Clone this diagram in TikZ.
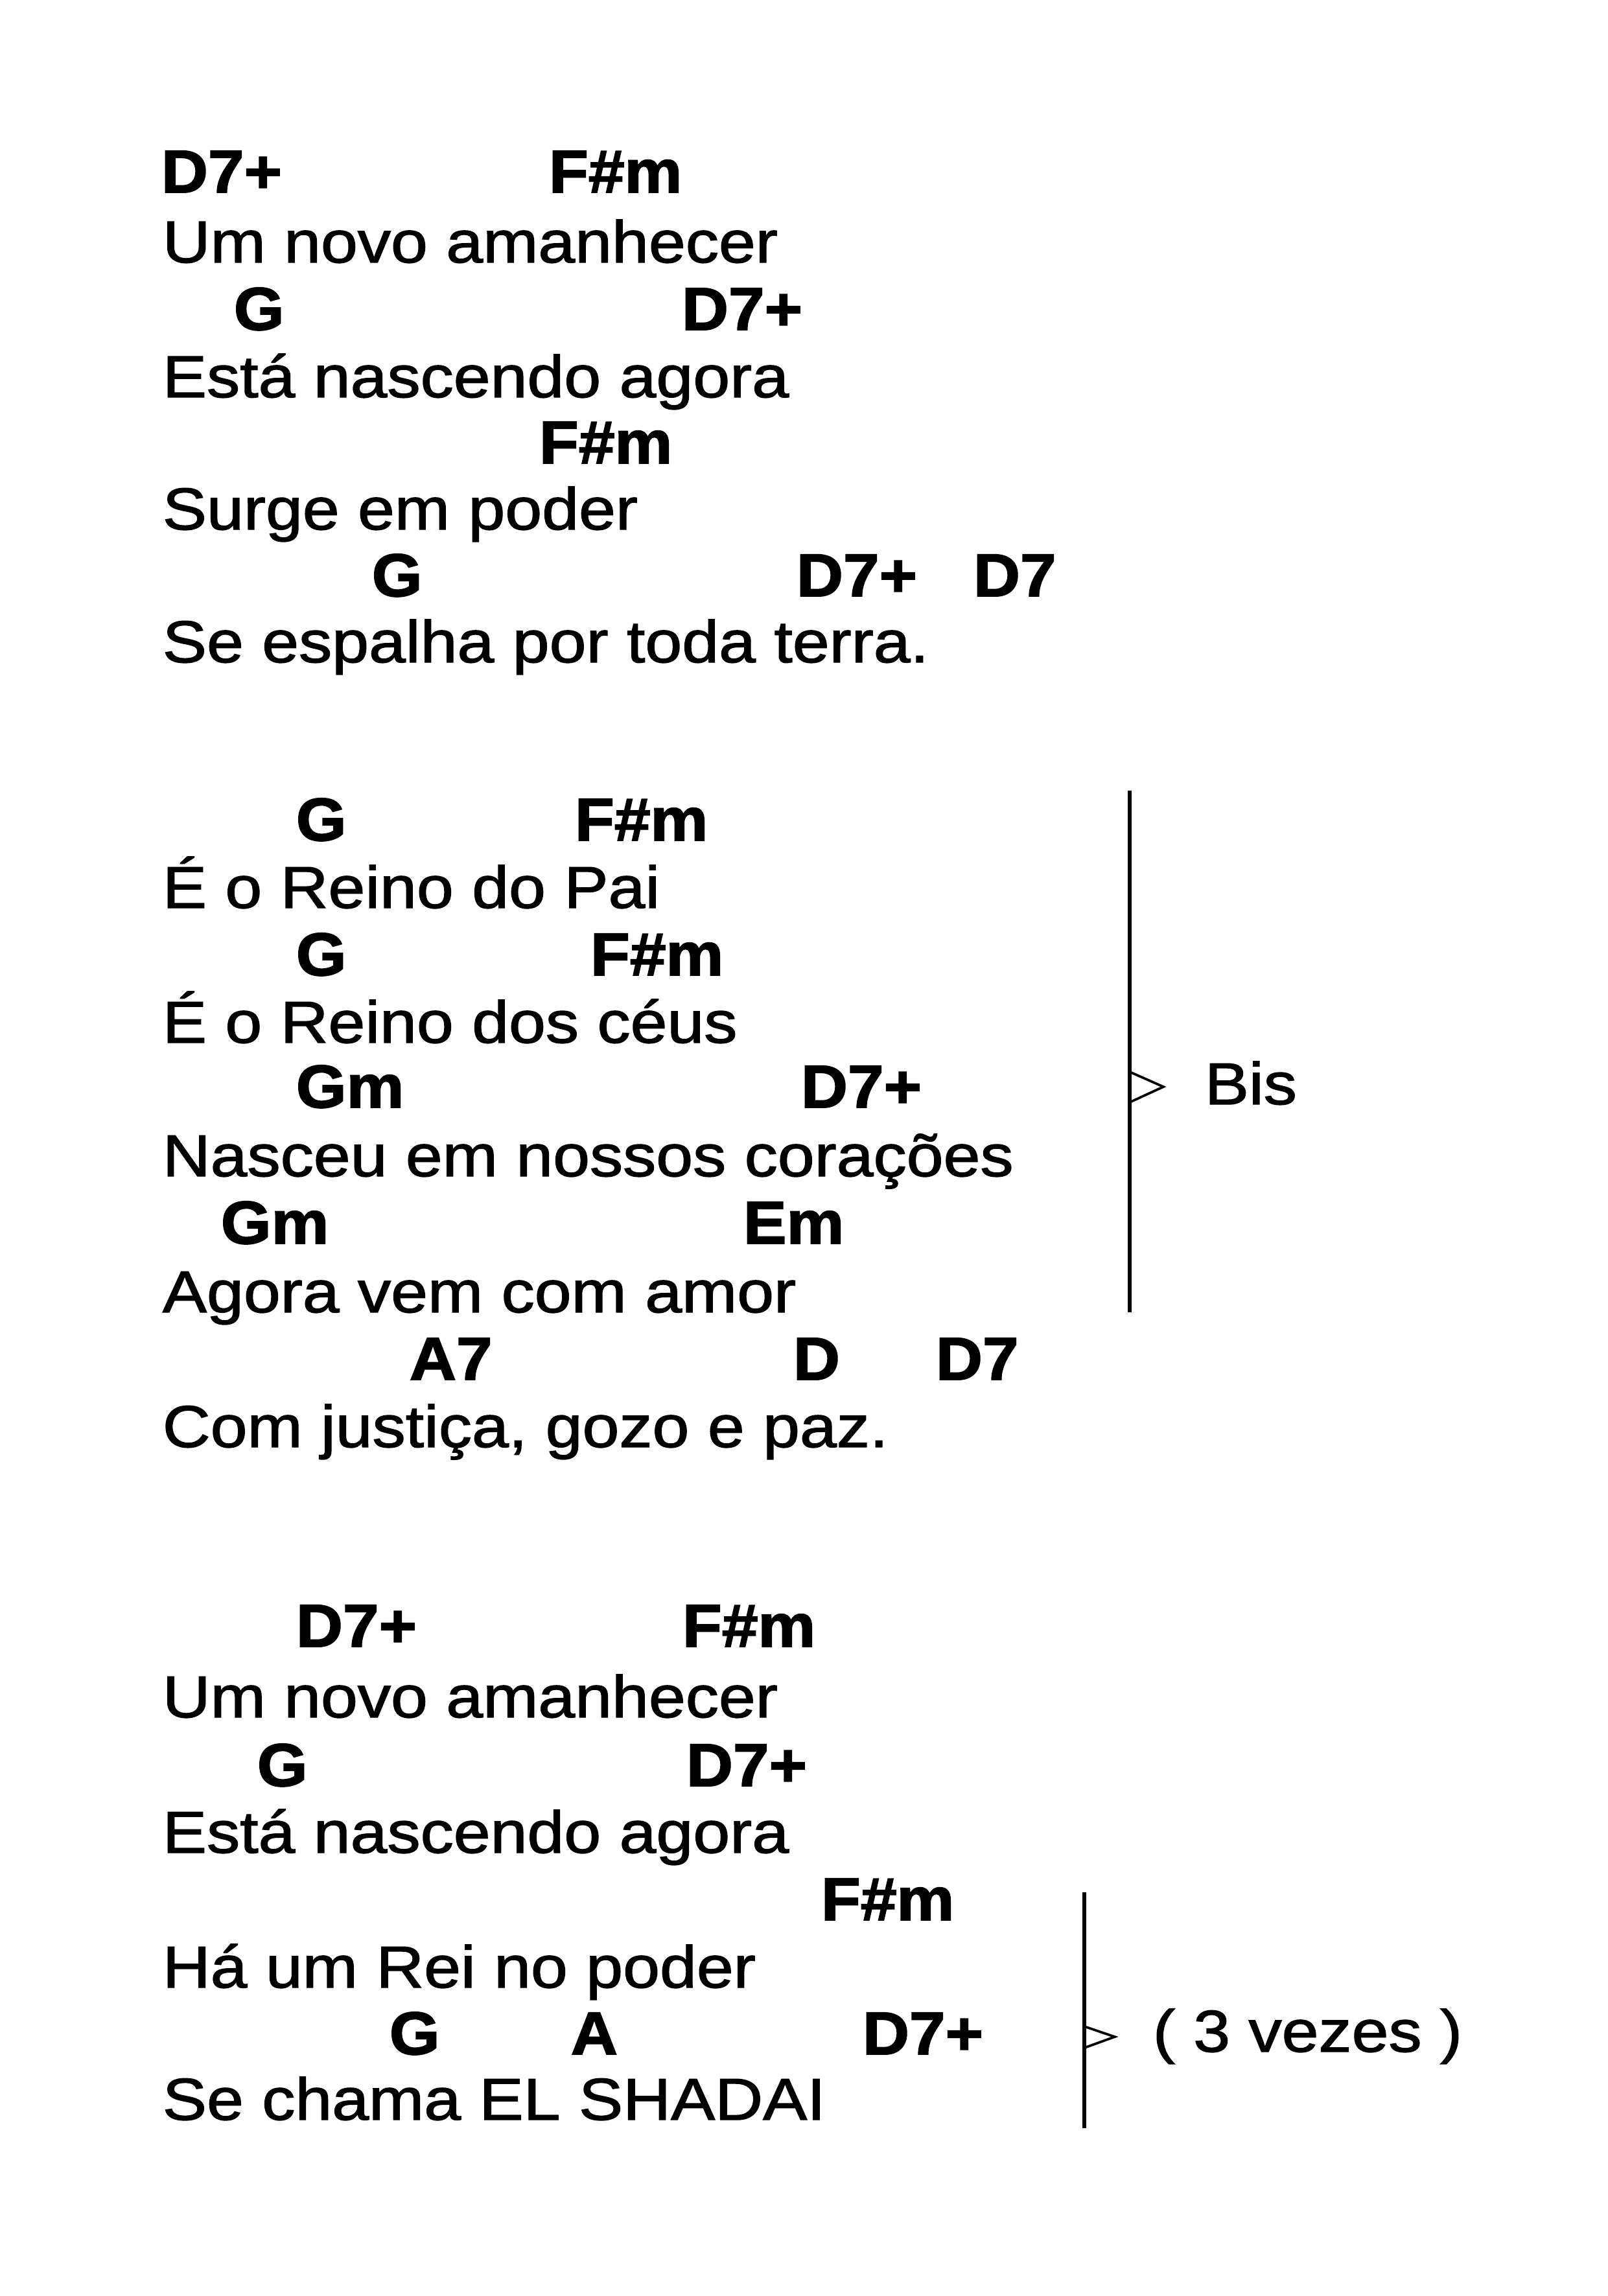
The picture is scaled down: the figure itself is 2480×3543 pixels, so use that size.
\documentclass[tikz,border=0pt]{standalone}
\usepackage{fontspec}
\setmainfont{Liberation Sans}
\newfontfamily\lyrfont[FakeStretch=1.12,FakeBold=1.5]{Liberation Sans}
\newfontfamily\chdfont[FakeStretch=1.07,FakeBold=2]{Liberation Sans Bold}
\begin{document}
\begin{tikzpicture}[x=0.0084667cm,y=-0.0084667cm,
  chord/.style={anchor=base west,inner sep=0pt,font=\chdfont\fontsize{22.5}{26}\selectfont},
  lyric/.style={anchor=base west,inner sep=0pt,font=\lyrfont\fontsize{22}{26}\selectfont},
  note/.style={anchor=base west,inner sep=0pt,font=\lyrfont\fontsize{22}{26}\selectfont},
  brace/.style={line width=1.25pt},
  tip/.style={line width=0.9pt,line join=miter}]
\useasboundingbox[fill=white] (0,0) rectangle (2480,3543);
% ---- Section 1
\node[chord] (a1) at (248,297) {D7+};
\node[chord] (a2) at (846,297) {F\#m};
\node[lyric] (la1) at (250,405) {Um novo amanhecer};
\node[chord] (a3) at (360,509) {G};
\node[chord] (a4) at (1051,509) {D7+};
\node[lyric] (la2) at (250,613) {Está nascendo agora};
\node[chord] (a5) at (831,715) {F\#m};
\node[lyric] (la3) at (250,817) {Surge em poder};
\node[chord] (a6) at (573,920) {G};
\node[chord] (a7) at (1228,920) {D7+};
\node[chord] (a8) at (1501,920) {D7};
\node[lyric] (la4) at (250,1022) {Se espalha por toda terra.};
% ---- Section 2
\node[chord] (b1) at (456,1297) {G};
\node[chord] (b2) at (886,1297) {F\#m};
\node[lyric] (lb1) at (250,1401) {É o Reino do Pai};
\node[chord] (b3) at (456,1505) {G};
\node[chord] (b4) at (910,1505) {F\#m};
\node[lyric] (lb2) at (250,1609) {É o Reino dos céus};
\node[chord] (b5) at (456,1709) {Gm};
\node[chord] (b6) at (1235,1709) {D7+};
\node[lyric] (lb3) at (250,1815) {Nasceu em nossos corações};
\node[chord] (b7) at (340,1919) {Gm};
\node[chord] (b8) at (1146,1919) {Em};
\node[lyric] (lb4) at (250,2025) {Agora vem com amor};
\node[chord] (b9) at (631,2129) {A7};
\node[chord] (b10) at (1223,2129) {D};
\node[chord] (b11) at (1443,2129) {D7};
\node[lyric] (lb5) at (250,2233) {Com justiça, gozo e paz.};
% Bis bracket
\coordinate (bt) at (1743,1220);
\coordinate (bb) at (1743,2025);
\coordinate (bu) at (1743,1654);
\coordinate (bd) at (1743,1701);
\coordinate (bp) at (1795,1677);
\draw[brace] (bt) -- (bb);
\draw[tip] (bu) -- (bp) -- (bd);
\node[note] (bis) at (1858,1704) {Bis};
% ---- Section 3
\node[chord] (c1) at (456,2541) {D7+};
\node[chord] (c2) at (1052,2541) {F\#m};
\node[lyric] (lc1) at (250,2650) {Um novo amanhecer};
\node[chord] (c3) at (396,2756) {G};
\node[chord] (c4) at (1058,2756) {D7+};
\node[lyric] (lc2) at (250,2859) {Está nascendo agora};
\node[chord] (c5) at (1266,2963) {F\#m};
\node[lyric] (lc3) at (250,3067) {Há um Rei no poder};
\node[chord] (c6) at (600,3170) {G};
\node[chord] (c7) at (880,3170) {A};
\node[chord] (c8) at (1330,3170) {D7+};
\node[lyric] (lc4) at (250,3271) {Se chama EL SHADAI};
% 3 vezes bracket
\coordinate (vt) at (1673,2920);
\coordinate (vb) at (1673,3284);
\coordinate (vu) at (1673,3127);
\coordinate (vd) at (1673,3160);
\coordinate (vp) at (1720,3143);
\draw[brace] (vt) -- (vb);
\draw[tip] (vu) -- (vp) -- (vd);
\node[note] (vez) at (1778,3166) {( 3 vezes )};
\end{tikzpicture}
\end{document}
